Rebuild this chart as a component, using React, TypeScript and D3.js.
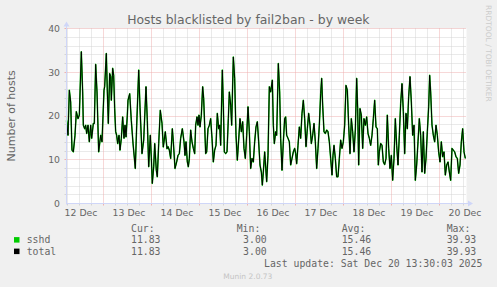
import React from "react";
import * as d3 from "d3";

// hours since 12 Dec 2025 00:00
const hours = [
  5.5, 6.25, 6.92, 7.58, 8.25, 8.92, 9.75, 10.42, 11.25, 11.92, 12.92, 13.58, 13.92, 14.58, 15.08, 15.58, 16.25, 16.92, 17.58, 18.08,
  18.92, 19.42, 20.08, 20.75, 21.58, 22.58, 23.25, 24.25, 24.58, 25.42, 25.92, 26.42, 27.08, 27.58, 27.92, 28.58, 29.08, 29.58, 30.08, 30.58,
  31.08, 31.75, 32.25, 32.92, 33.58, 34.25, 34.75, 35.25, 35.92, 36.25, 37.1, 37.9, 38.75, 39.9, 40.6, 41.6, 42.25, 43.25, 44.1, 45.25,
  45.9, 46.6, 47.4, 47.9, 48.4, 49.1, 49.6, 50.4, 50.9, 51.6, 52.4, 53.25, 53.9, 54.9, 55.75, 56.25, 56.92, 57.58, 58.42, 58.92,
  59.75, 60.58, 61.25, 61.92, 62.58, 63.42, 64.25, 64.75, 65.25, 65.92, 66.42, 66.92, 67.58, 68.25, 68.92, 69.58, 70.08, 70.75, 71.25, 71.75,
  72.25, 72.92, 73.58, 74.08, 74.58, 75.08, 75.58, 76.25, 76.92, 77.58, 78.25, 78.92, 79.58, 80.25, 80.92, 81.58, 82.08, 82.58, 83.42, 83.92,
  84.42, 85.08, 85.75, 86.42, 86.92, 87.58, 88.08, 88.92, 89.58, 90.25, 90.92, 91.58, 92.25, 92.92, 93.58, 94.25, 94.92, 95.58, 96.25, 96.92,
  97.58, 98.25, 98.92, 99.58, 100.25, 100.92, 101.58, 102.25, 102.92, 103.42, 103.92, 104.58, 105.58, 106.25, 106.92, 107.58, 108.42, 108.92, 109.42, 110.08,
  110.58, 111.42, 112.08, 112.58, 113.25, 113.92, 114.58, 115.08, 115.58, 116.25, 116.92, 117.58, 118.25, 118.92, 119.58, 120.08, 120.58, 121.25, 121.92, 122.58,
  123.25, 123.92, 124.58, 125.25, 125.92, 126.58, 127.25, 127.92, 128.58, 129.25, 129.92, 130.58, 131.25, 131.92, 132.58, 133.08, 133.58, 134.25, 134.92, 135.58,
  136.25, 136.92, 137.58, 138.25, 138.75, 139.25, 139.92, 140.58, 141.25, 141.92, 142.58, 143.25, 143.92, 144.58, 145.25, 145.92, 146.58, 147.25, 147.92, 148.58,
  149.25, 149.92, 150.58, 151.08, 151.58, 152.25, 152.92, 153.58, 154.25, 154.92, 155.58, 156.25, 156.92, 157.58, 158.25, 158.92, 159.58, 160.25, 160.92, 161.42,
  161.92, 162.58, 163.25, 163.92, 164.58, 165.25, 165.92, 166.58, 167.25, 167.92, 168.58, 169.25, 169.92, 170.58, 171.25, 171.92, 172.58, 173.25, 173.92, 174.58,
  175.25, 175.92, 176.58, 177.25, 177.92, 178.58, 179.25, 179.92, 180.58, 181.25, 181.92, 182.58, 183.25, 183.92, 184.58, 185.25, 185.92, 186.58, 187.08, 187.58,
  188.25, 188.92, 189.58, 190.25, 190.92, 191.58, 192.25, 192.92, 193.58, 194.25, 194.92, 195.58, 196.25, 196.92, 197.58, 198.25, 198.92, 199.58, 200.25, 200.92,
  201.58, 202.25, 202.92, 203.58, 204.25, 204.92,
];

const sshd = [
  19.0, 15.6, 25.9, 23.2, 12.2, 11.8, 15.6, 21.0, 19.4, 20.2, 34.7, 25.5, 17.9, 17.1, 17.9, 16.0, 17.9, 14.1, 17.9, 14.9,
  18.3, 18.3, 31.8, 25.5, 11.8, 15.6, 14.1, 25.9, 26.7, 34.3, 25.5, 18.3, 29.7, 29.0, 23.6, 30.9, 29.3, 21.7, 16.4, 15.6,
  13.7, 15.6, 12.2, 14.9, 19.8, 14.9, 17.9, 15.2, 20.2, 23.6, 25.1, 19.0, 13.8, 8.0, 17.9, 30.5, 22.0, 11.4, 14.5, 26.7,
  19.0, 8.4, 15.6, 10.6, 4.6, 8.4, 13.7, 7.6, 6.1, 13.7, 21.3, 18.3, 12.9, 16.4, 12.5, 13.0, 12.2, 10.3, 17.1, 14.1,
  8.0, 9.5, 11.0, 11.4, 14.9, 17.1, 14.1, 11.0, 14.1, 9.5, 8.4, 10.3, 16.8, 14.1, 12.6, 11.4, 17.9, 19.8, 17.9, 20.2,
  17.5, 20.2, 26.7, 24.0, 17.9, 11.4, 11.8, 17.1, 17.9, 19.4, 14.9, 9.5, 12.2, 13.3, 20.6, 17.1, 17.9, 13.3, 30.5, 22.5,
  11.8, 11.4, 11.8, 19.4, 25.5, 22.5, 17.9, 33.5, 28.6, 15.6, 9.9, 14.5, 19.4, 16.4, 18.7, 12.6, 10.3, 15.6, 22.1, 16.4,
  8.0, 10.3, 9.5, 14.1, 17.5, 18.7, 14.1, 8.8, 7.2, 4.2, 7.2, 11.8, 5.0, 11.0, 26.7, 25.5, 28.2, 17.9, 13.7, 16.4,
  15.6, 32.0, 25.5, 14.9, 7.6, 14.1, 19.4, 19.8, 15.6, 14.9, 14.1, 8.8, 10.3, 11.8, 12.6, 11.4, 9.1, 13.3, 17.5, 14.9,
  20.6, 23.6, 19.4, 13.0, 17.1, 20.6, 17.9, 13.7, 15.6, 18.3, 14.1, 8.0, 12.6, 17.9, 25.1, 28.6, 22.5, 16.4, 16.0, 16.8,
  16.4, 14.1, 10.3, 6.5, 11.0, 13.3, 10.3, 6.1, 6.1, 10.3, 14.5, 12.6, 14.1, 17.9, 27.0, 25.9, 17.9, 11.4, 19.4, 16.4,
  11.8, 16.8, 28.6, 21.7, 8.8, 21.7, 20.2, 12.6, 19.4, 17.9, 19.8, 16.0, 14.9, 13.3, 15.6, 19.4, 23.6, 17.5, 17.1, 8.8,
  11.8, 13.7, 13.3, 9.5, 8.9, 10.3, 20.2, 12.6, 8.0, 11.0, 5.3, 10.3, 19.4, 13.3, 8.8, 15.6, 22.9, 27.4, 21.0, 11.4,
  20.6, 17.1, 24.4, 29.0, 23.2, 15.6, 17.9, 5.3, 8.8, 14.1, 19.4, 15.6, 7.2, 16.4, 6.9, 10.3, 16.4, 22.1, 29.3, 25.5,
  17.9, 15.6, 14.1, 17.9, 15.6, 11.8, 9.5, 14.1, 10.7, 11.8, 6.5, 8.8, 9.5, 7.2, 5.3, 12.6, 12.2, 11.8, 10.7, 10.3,
  6.9, 8.8, 14.1, 17.1, 11.8, 10.3,
];
const total = sshd;

const yTicks = [0, 10, 20, 30, 40];
const dayLabels = ["12 Dec", "13 Dec", "14 Dec", "15 Dec", "16 Dec", "17 Dec", "18 Dec", "19 Dec", "20 Dec"];
const legendNames = ["sshd", "total"];
const legendColors = ["#00CC00", "#000000"];
const curVals = ["11.83", "11.83"];
const minVals = ["3.00", "3.00"];
const avgVals = ["15.46", "15.46"];
const maxVals = ["39.93", "39.93"];

const W = 497;
const H = 287;
const startH = 5.5;
const endH = 205.5;

export default function App() {
  const x = d3.scaleLinear().domain([startH, endH]).range([66.5, 466.5]);
  const y = d3.scaleLinear().domain([0, 40]).range([203.5, 28.5]);
  const gy = (v: number) => Math.floor(y(v)) + 0.5;
  const pts = hours.map((h, i) => [h, sshd[i]] as [number, number]);
  const ptsT = hours.map((h, i) => [h, total[i]] as [number, number]);
  const line = d3
    .line<[number, number]>()
    .x((d) => x(d[0]))
    .y((d) => y(d[1]));

  const minorY = d3.range(0, 41, 2).filter((v) => v % 10 !== 0);
  const majorY = yTicks.filter((v) => v > 0);
  const minorX = d3.range(6, endH, 6).filter((h) => h % 24 !== 0 && h >= startH);
  const majorX = d3.range(24, endH, 24);
  const labelX = d3.range(12, endH, 24);

  const sans = "'DejaVu Sans', sans-serif";
  const mono = "'DejaVu Sans Mono', monospace";
  const fontCol = "#666666";
  const gridCol = "#d4d4d4";
  const mgridCol = "#efb0b0";
  const axisCol = "#CFD6F8";
  const x0 = x(startH);
  const x1 = x(endH);
  const y0 = y(0);
  const yTop = y(40);

  return (
    <svg
      width={W}
      height={H}
      style={{ position: "absolute", left: 0, top: 0, display: "block" }}
    >
      <rect x={0} y={0} width={W} height={H} fill="#F0F0F0" />
      <rect x={x0} y={yTop} width={x1 - x0} height={y0 - yTop} fill="#FFFFFF" />

      {/* minor grid */}
      {minorY.map((v) => (
        <g key={"my" + v}>
          <line x1={x0} x2={x1} y1={gy(v)} y2={gy(v)} stroke={gridCol} strokeDasharray="1,1" />
          <line x1={x0 - 2} x2={x0} y1={gy(v)} y2={gy(v)} stroke={gridCol} />
        </g>
      ))}
      {minorX.map((h) => (
        <g key={"mx" + h}>
          <line x1={x(h)} x2={x(h)} y1={yTop} y2={y0} stroke={gridCol} strokeDasharray="1,1" />
          <line x1={x(h)} x2={x(h)} y1={y0} y2={y0 + 2} stroke={gridCol} />
        </g>
      ))}
      {/* major grid */}
      {majorY.map((v) => (
        <g key={"My" + v}>
          <line x1={x0} x2={x1} y1={gy(v)} y2={gy(v)} stroke={mgridCol} strokeDasharray="1,1" />
          <line x1={x0 - 2} x2={x0} y1={gy(v)} y2={gy(v)} stroke={mgridCol} />
        </g>
      ))}
      {majorX.map((h) => (
        <g key={"Mx" + h}>
          <line x1={x(h)} x2={x(h)} y1={yTop} y2={y0} stroke={mgridCol} strokeDasharray="1,1" />
          <line x1={x(h)} x2={x(h)} y1={y0} y2={y0 + 2} stroke={mgridCol} />
        </g>
      ))}

      {/* data */}
      <path d={line(pts) || ""} fill="none" stroke="#00CC00" strokeWidth={1.5} strokeLinejoin="round" />
      <path d={line(ptsT) || ""} fill="none" stroke="#000000" strokeWidth={1} strokeLinejoin="round" />

      {/* axes */}
      <line x1={x0} x2={x1 + 3} y1={y0} y2={y0} stroke={axisCol} />
      <line x1={x0} x2={x0} y1={y0 + 1} y2={yTop - 3} stroke={axisCol} />
      <path d={`M${x1 + 6.5},${y0} L${x1 + 1.5},${y0 - 3} L${x1 + 1.5},${y0 + 3} Z`} fill={axisCol} />
      <path d={`M${x0},${yTop - 7} L${x0 - 3},${yTop - 2} L${x0 + 3},${yTop - 2} Z`} fill={axisCol} />

      {/* y labels */}
      {yTicks.map((v) => (
        <text key={"yl" + v} x={60} y={y(v) + 3.3} textAnchor="end" fontFamily={sans} fontSize={9.3} fill={fontCol}>
          {v}
        </text>
      ))}
      {/* x labels */}
      {labelX.map((h, i) => (
        <text key={"xl" + h} x={x(h) + 1.5} y={216} textAnchor="middle" fontFamily={sans} fontSize={9.3} fill={fontCol}>
          {dayLabels[i]}
        </text>
      ))}

      {/* title */}
      <text x={248.3} y={24.3} textAnchor="middle" fontFamily={sans} fontSize={12.4} fill={fontCol}>
        Hosts blacklisted by fail2ban - by week
      </text>
      {/* y axis title */}
      <text transform="translate(15,115.8) rotate(-90)" textAnchor="middle" fontFamily={sans} fontSize={11} fill={fontCol}>
        Number of hosts
      </text>
      {/* watermark */}
      <text transform="translate(485.5,5) rotate(90)" textAnchor="start" fontFamily={sans} fontSize={7.5} fill="#cccccc">
        RRDTOOL / TOBI OETIKER
      </text>

      {/* legend */}
      <text x={131} y={231.8} fontFamily={mono} fontSize={9.8} fill={fontCol}>Cur:</text>
      <text x={236.7} y={231.8} fontFamily={mono} fontSize={9.8} fill={fontCol}>Min:</text>
      <text x={341.7} y={231.8} fontFamily={mono} fontSize={9.8} fill={fontCol}>Avg:</text>
      <text x={446.7} y={231.8} fontFamily={mono} fontSize={9.8} fill={fontCol}>Max:</text>
      {legendNames.map((n, i) => {
        const by = 243.3 + i * 11.5;
        return (
          <g key={n}>
            <rect x={14} y={by - 6.2} width={5.5} height={5.5} fill={legendColors[i]} />
            <text x={26.7} y={by} fontFamily={mono} fontSize={9.8} fill={fontCol}>{n}</text>
            <text x={160.5} y={by} textAnchor="end" fontFamily={mono} fontSize={9.8} fill={fontCol}>{curVals[i]}</text>
            <text x={266.7} y={by} textAnchor="end" fontFamily={mono} fontSize={9.8} fill={fontCol}>{minVals[i]}</text>
            <text x={371.2} y={by} textAnchor="end" fontFamily={mono} fontSize={9.8} fill={fontCol}>{avgVals[i]}</text>
            <text x={476.2} y={by} textAnchor="end" fontFamily={mono} fontSize={9.8} fill={fontCol}>{maxVals[i]}</text>
          </g>
        );
      })}
      <text x={482.3} y={266.8} textAnchor="end" fontFamily={mono} fontSize={9.8} fill={fontCol}>
        Last update: Sat Dec 20 13:30:03 2025
      </text>
      <text x={223.3} y={279} fontFamily={sans} fontSize={7.5} fill="#c4c4c4">
        Munin 2.0.73
      </text>
    </svg>
  );
}
